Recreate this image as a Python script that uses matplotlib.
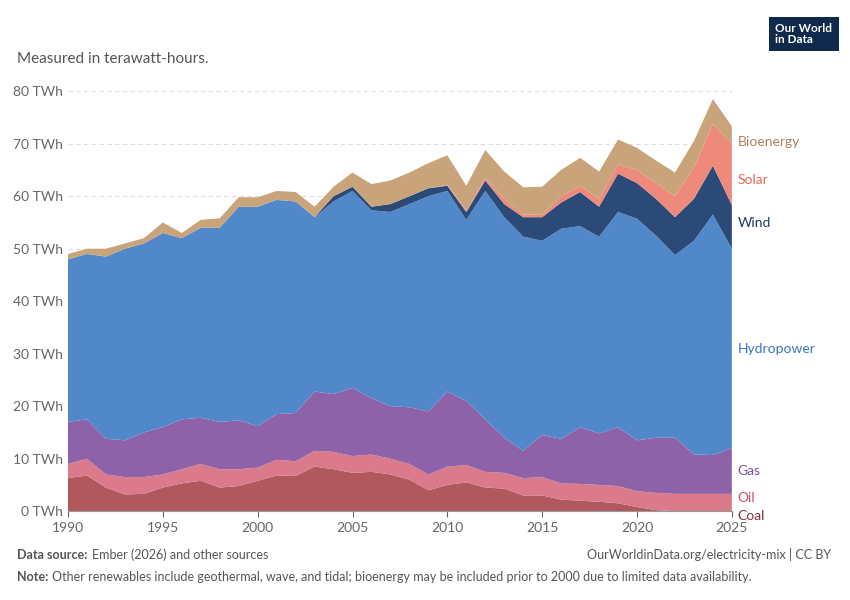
import matplotlib
matplotlib.use("Agg")
import matplotlib.pyplot as plt
import numpy as np

plt.rcParams["font.family"] = ["Lato", "DejaVu Sans"]

years = np.arange(1990, 2026)
# cumulative stack tops (TWh)
coal_top = [6.3, 6.8, 4.5, 3.2, 3.3, 4.5, 5.3, 5.8, 4.5, 4.8, 5.8, 6.8, 6.7, 8.5, 8.0, 7.3,
            7.5, 7.0, 6.0, 4.0, 5.0, 5.5, 4.5, 4.3, 3.0, 3.0, 2.2, 2.0, 1.8, 1.5, 0.8, 0.2,
            0, 0, 0, 0]
oil_top = [9, 10, 7, 6.5, 6.5, 7, 8, 9, 8, 8, 8.3, 9.8, 9.5, 11.5, 11.3, 10.5, 10.8, 10, 9, 7,
           8.5, 8.8, 7.5, 7.3, 6.3, 6.5, 5.3, 5.2, 5.0, 4.8, 3.8, 3.5, 3.3, 3.3, 3.3, 3.3]
gas_top = [17, 17.5, 13.8, 13.5, 15, 16, 17.5, 17.8, 17, 17.3, 16.2, 18.5, 18.7, 22.8, 22.3,
           23.5, 21.5, 20, 19.8, 19, 22.8, 21, 17.5, 14, 11.5, 14.5, 13.8, 16, 14.8, 16, 13.5,
           14, 14, 10.8, 10.7, 12]
hydro_top = [48, 49, 48.5, 50, 51, 53, 52, 54, 54, 58, 58, 59.3, 59, 56, 59, 61, 57.3, 57,
             58.5, 60, 61, 55.5, 61, 56, 52.3, 51.5, 53.8, 54.3, 52.3, 57, 55.7, 52.5, 48.8,
             51.5, 56.5, 50]
wind_top = [48, 49, 48.5, 50, 51, 53, 52, 54, 54, 58, 58, 59.3, 59, 56, 60, 61.8, 58, 58.5,
            60, 61.5, 62, 57, 63, 58.5, 56, 56, 58.8, 60.8, 58, 64.3, 62.5, 59.5, 56, 59.5,
            65.8, 58.3]
solar_top = [48, 49, 48.5, 50, 51, 53, 52, 54, 54, 58, 58, 59.3, 59, 56, 60, 61.8, 58, 58.5,
             60, 61.5, 62.2, 57.3, 63.5, 59.5, 56.5, 56.5, 60, 62, 59.5, 66, 65, 62.5, 60,
             65.5, 73.8, 70]
bio_top = [49, 50, 50, 51, 52, 55, 53, 55.5, 55.8, 59.8, 59.8, 61, 60.8, 58, 61.8, 64.5, 62.3,
           63, 64.5, 66.3, 67.8, 62, 68.8, 64.7, 61.7, 61.8, 65, 67.3, 64.7, 70.8, 69.2, 66.8,
           64.5, 70.5, 78.5, 73.3]

labels = ["Coal", "Oil", "Gas", "Hydropower", "Wind", "Solar", "Bioenergy"]
colors = ["#b0585e", "#da7a8a", "#8e62a8", "#5188c9", "#2b4a78", "#ee8a7c", "#c9a47a"]
text_colors = ["#883039", "#c94f62", "#7b4fa0", "#3a74c0", "#1d3764", "#e06b5a", "#a9825a"]

tops = np.array([coal_top, oil_top, gas_top, hydro_top, wind_top, solar_top, bio_top], float)
vals = np.diff(np.vstack([np.zeros(len(years)), tops]), axis=0)

fig = plt.figure(figsize=(8.5, 6), dpi=100)
ax = fig.add_axes([0.08, 0.148, 0.781, 0.70])
ax.stackplot(years, vals, colors=colors, linewidth=0)

ax.set_xlim(1990, 2025)
ax.set_ylim(0, 80)
ax.set_yticks(range(0, 81, 10))
ax.set_yticklabels([f"{v} TWh" for v in range(0, 81, 10)], color="#666666", fontsize=10)
ax.set_xticks([1990, 1995, 2000, 2005, 2010, 2015, 2020, 2025])
ax.tick_params(axis="x", colors="#666666", labelsize=10, length=4)
ax.tick_params(axis="y", length=0)
ax.grid(axis="y", color="#dddddd", linestyle=(0, (4, 3)), linewidth=0.8)
ax.set_axisbelow(True)
for s in ["top", "right", "left"]:
    ax.spines[s].set_visible(False)
ax.spines["bottom"].set_color("#999999")

label_y = [-1.0, 2.5, 7.6, 30.9, 54.9, 63.0, 70.4]
for lab, y, c in zip(labels, label_y, text_colors):
    ax.text(2025.3, y, lab, color=c, fontsize=10, va="center", clip_on=False)

fig.text(0.02, 0.895, "Measured in terawatt-hours.", fontsize=11, color="#555555")
fig.text(0.912, 0.925, "Our World\nin Data", fontsize=8.5, color="white", weight="bold",
         ha="left", va="bottom", linespacing=1.0,
         bbox=dict(boxstyle="square,pad=0.55", fc="#0f2a4a", ec="none"))
fig.text(0.02, 0.068, "Data source:", fontsize=9, color="#555555", weight="bold")
fig.text(0.108, 0.068, "Ember (2026) and other sources", fontsize=9, color="#555555")
fig.text(0.978, 0.068, "OurWorldinData.org/electricity-mix | CC BY", fontsize=9,
         color="#555555", ha="right")
fig.text(0.02, 0.032, "Note:", fontsize=9, color="#555555", weight="bold")
fig.text(0.061, 0.032, "Other renewables include geothermal, wave, and tidal; bioenergy may be "
         "included prior to 2000 due to limited data availability.", fontsize=9, color="#555555")

fig.savefig("out.png", dpi=100)
